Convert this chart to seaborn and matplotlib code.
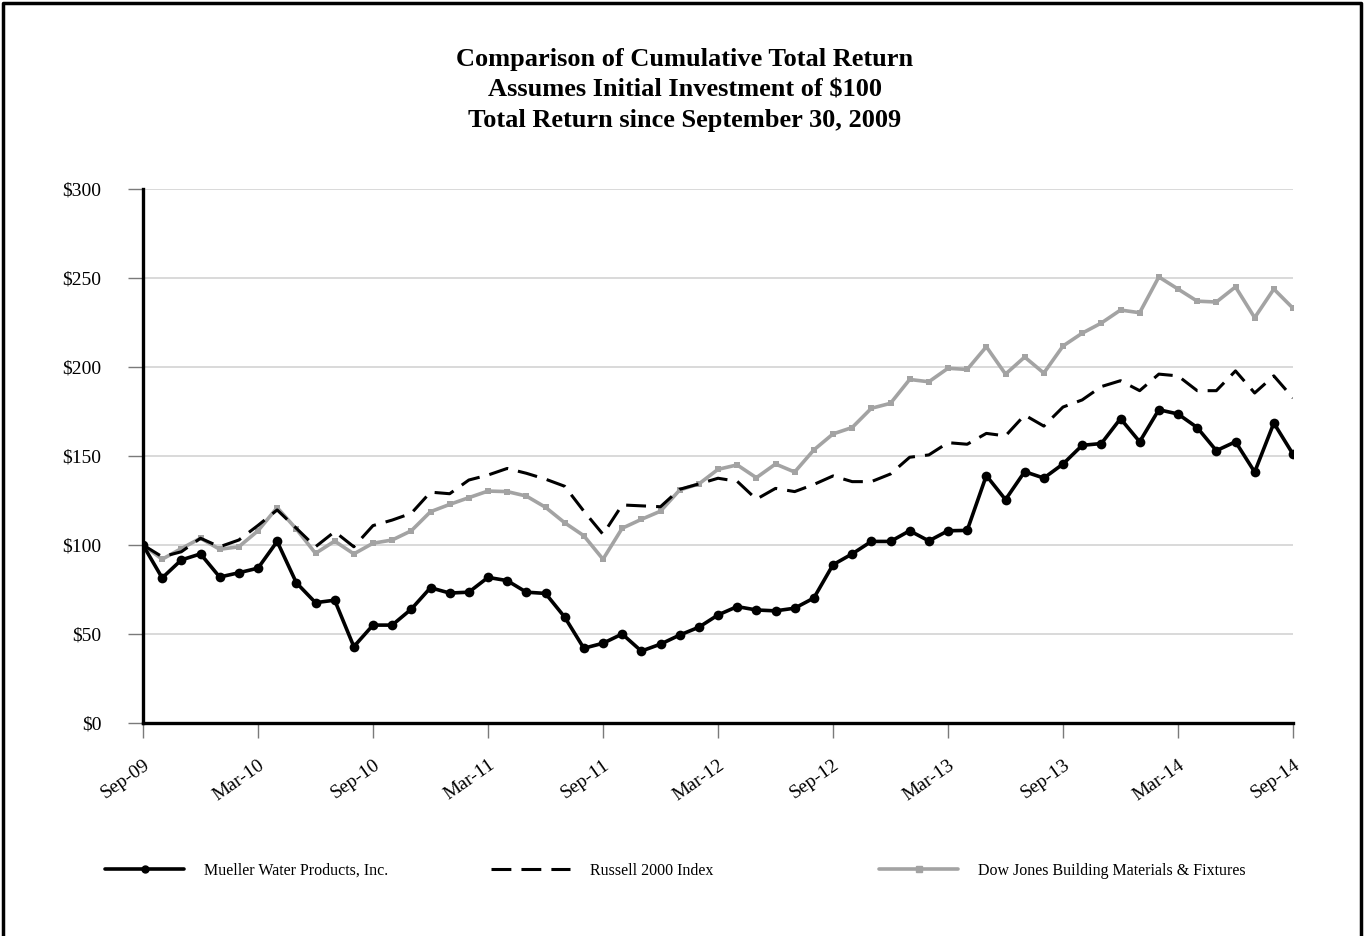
import numpy as np
import pandas as pd
import matplotlib
matplotlib.use("Agg")
import matplotlib.pyplot as plt
import matplotlib.transforms as mtrans
import seaborn as sns
from matplotlib.lines import Line2D

# Monthly values, Sep-09 .. Sep-14 (61 months)
months = pd.date_range("2009-09-30", periods=61, freq="ME")
tick_labels = ["Sep-09", "Mar-10", "Sep-10", "Mar-11", "Sep-11", "Mar-12",
               "Sep-12", "Mar-13", "Sep-13", "Mar-14", "Sep-14"]

mueller = [100, 81.5, 91.6, 95, 82, 84.4, 87, 102, 78.8, 67.6,
           69, 42.9, 55, 55, 64, 76, 73, 73.5, 81.8, 80,
           73.5, 72.8, 59.5, 42, 44.8, 50, 40.4, 44.3, 49.4, 53.8,
           60.7, 65.4, 63.5, 63, 64.5, 70.2, 88.9, 95, 102, 102,
           108, 102.3, 108, 108.2, 139, 125.5, 141.2, 137.6, 145.5, 156,
           157, 171, 158, 176, 173.6, 166, 153, 158, 141, 168.5,
           151]

russell = [100, 93.4, 96.2, 103.8, 99, 102.8, 111, 119.7, 109.4, 99,
           107.5, 99, 110.9, 114, 117.8, 129.7, 128.8, 136.5, 139.3, 143,
           140.3, 137, 133, 119, 106, 122.5, 122, 121.5, 131.3, 134.3,
           137.5, 135.8, 125.7, 131.8, 130, 134, 138.8, 135.6, 135.6, 139.9,
           149.3, 150.6, 157.5, 156.6, 162.7, 161.3, 173, 166.8, 177.5, 181.5,
           189, 192.3, 186.7, 196, 195, 186.7, 186.7, 197.8, 185.4, 195,
           182.6]

dowjones = [100, 92, 98, 103.8, 97.6, 99, 108, 121, 109, 95.3,
            102.2, 95, 101, 102.8, 108, 118.7, 122.8, 126.6, 130.3, 130,
            127.5, 121.2, 112.5, 105.2, 92, 109.4, 114.4, 119, 130.9, 134.3,
            142.5, 145, 137.8, 145.5, 141, 153.4, 162.4, 166, 176.8, 179.6,
            193, 191.7, 199.3, 198.6, 211.4, 196, 205.6, 196.6, 211.8, 219,
            224.7, 232, 230.5, 250.6, 243.8, 237, 236.5, 245, 227.7, 243.8,
            233]

names = ["Mueller Water Products, Inc.", "Russell 2000 Index",
         "Dow Jones Building Materials & Fixtures"]

df = pd.DataFrame({
    "month": np.arange(len(months)),
    names[0]: mueller,
    names[1]: russell,
    names[2]: dowjones,
})

sns.set_style("white")
plt.rcParams["font.family"] = ["Liberation Serif", "DejaVu Serif"]
plt.rcParams["text.color"] = "black"
plt.rcParams["xtick.color"] = "#7a7a7a"
plt.rcParams["ytick.color"] = "#7a7a7a"
plt.rcParams["xtick.labelcolor"] = "black"
plt.rcParams["ytick.labelcolor"] = "black"

fig = plt.figure(figsize=(13.64, 9.36), dpi=100)
ax = fig.add_axes([143 / 1364, 1 - 723 / 936, 1150 / 1364, 534 / 936])

gray = "#a3a3a3"
dash = [6.5, 3.3]
sns.lineplot(data=df, x="month", y=names[2], ax=ax, color=gray, lw=2.6,
             marker="s", markersize=4.5, markeredgewidth=0, zorder=3)
sns.lineplot(data=df, x="month", y=names[1], ax=ax, color="black", lw=2.2,
             zorder=4)
ax.lines[-1].set_dashes(dash)
sns.lineplot(data=df, x="month", y=names[0], ax=ax, color="black", lw=2.6,
             marker="o", markersize=7, markeredgewidth=0, zorder=5)

ax.set_xlim(0, 60)
ax.set_ylim(0, 300)
ax.set_yticks(range(0, 301, 50))
ax.set_yticklabels([f"${v}" for v in range(0, 301, 50)], fontsize=14)
ax.set_xticks(range(0, 61, 6))
ax.set_xticklabels(tick_labels, fontsize=14, rotation=35, ha="right",
                   rotation_mode="anchor")
shift = mtrans.ScaledTranslation(-5 / 100, 0, fig.dpi_scale_trans)
for lab in ax.get_xticklabels():
    lab.set_transform(lab.get_transform() + shift)
ax.set_xlabel("")
ax.set_ylabel("")

ax.grid(axis="y", color="#d0d0d0", lw=1.1)
ax.set_axisbelow(True)
for s in ["top", "right"]:
    ax.spines[s].set_visible(False)
for s in ["left", "bottom"]:
    ax.spines[s].set_linewidth(2.4)
    ax.spines[s].set_color("black")
ax.tick_params(axis="y", left=True, length=11, width=1, pad=19)
ax.tick_params(axis="x", bottom=True, length=11, width=1, pad=13)

fig.text(0.502, 1 - 90 / 936, "Comparison of Cumulative Total Return\n"
         "Assumes Initial Investment of $100\n"
         "Total Return since September 30, 2009",
         ha="center", va="center", fontsize=19, fontweight="bold",
         linespacing=1.4)

# legend entries placed individually
handles = [
    Line2D([], [], color="black", lw=2.6, marker="o", markersize=5),
    Line2D([], [], color="black", lw=2.2, dashes=dash),
    Line2D([], [], color=gray, lw=2.6, marker="s", markersize=4),
]
xs = [91, 477, 865]
for h, n, x in zip(handles, names, xs):
    fig.legend([h], [n], loc="center left", bbox_to_anchor=(x / 1364, 1 - 871 / 936),
               frameon=False, fontsize=11.5, handlelength=4.9, handletextpad=1.25)

# outer frame on top/left/right
fig.add_artist(Line2D([0.002, 0.002, 0.998, 0.998], [0.0, 0.997, 0.997, 0.0],
                      transform=fig.transFigure, color="black", lw=2.5))

fig.savefig("out.png", dpi=100)
